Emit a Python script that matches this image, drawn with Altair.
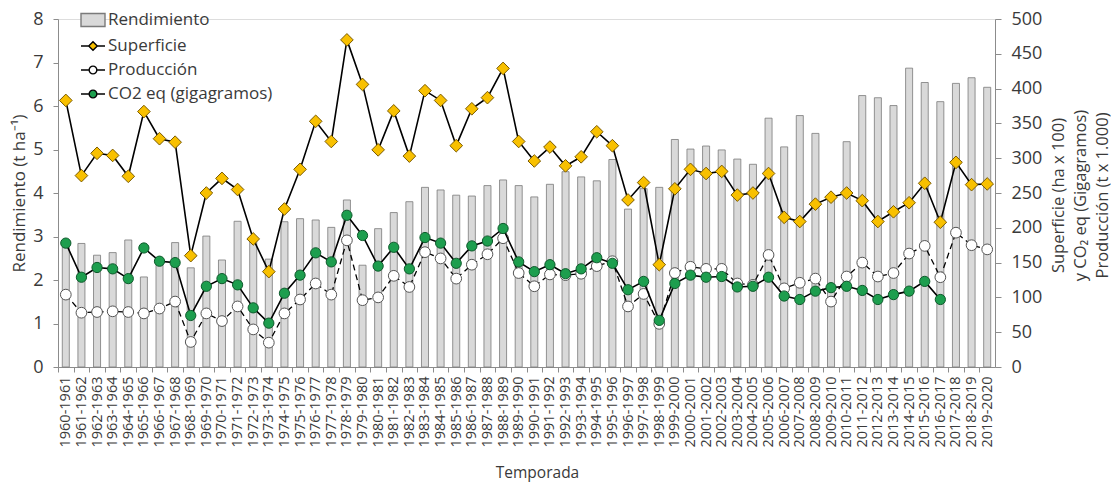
import altair as alt
import pandas as pd

temporadas = [f"{y}-{y + 1}" for y in range(1960, 2020)]

rendimiento = [2.76, 2.84, 2.57, 2.63, 2.92, 2.07, 2.48, 2.86, 2.28, 3.01,
               2.46, 3.35, 2.95, 2.48, 3.34, 3.41, 3.38, 3.21, 3.84, 2.34,
               3.18, 3.55, 3.80, 4.13, 4.07, 3.95, 3.93, 4.17, 4.30, 4.17,
               3.91, 4.20, 4.49, 4.37, 4.28, 4.77, 3.63, 4.10, 4.13, 5.23,
               5.01, 5.08, 4.99, 4.78, 4.66, 5.72, 5.06, 5.78, 5.37, 3.90,
               5.18, 6.24, 6.19, 6.01, 6.87, 6.54, 6.10, 6.52, 6.65, 6.43]

superficie = [383, 275, 307, 304, 274, 367, 328, 323, 160, 250,
              271, 255, 184, 137, 227, 284, 353, 324, 470, 406,
              312, 368, 303, 397, 383, 318, 371, 387, 429, 324,
              296, 316, 289, 302, 338, 318, 240, 265, 147, 256,
              284, 278, 281, 247, 250, 278, 215, 209, 234, 244,
              250, 239, 209, 223, 236, 264, 208, 294, 262, 263]

produccion = [104, 78, 79, 80, 79, 77, 84, 94, 36, 77,
              66, 87, 54, 35, 77, 97, 120, 104, 182, 96,
              100, 131, 115, 165, 156, 127, 147, 162, 185, 135,
              116, 133, 132, 134, 145, 152, 87, 105, 62, 135,
              144, 141, 141, 120, 118, 161, 113, 121, 127, 94,
              130, 150, 130, 135, 163, 174, 129, 193, 175, 169]

co2 = [178, 129, 143, 141, 127, 171, 152, 150, 74, 116,
       127, 118, 85, 63, 106, 132, 164, 151, 218, 189,
       145, 172, 141, 186, 178, 149, 174, 181, 199, 151,
       137, 147, 134, 141, 157, 149, 111, 123, 67, 120,
       132, 129, 130, 115, 116, 129, 102, 97, 109, 114,
       116, 110, 97, 104, 109, 123, 97]

leyenda = ["Rendimiento", "Superficie", "Producción", "CO2 eq (gigagramos)"]

FONT = "Open Sans"
TXT = "#3a3a3a"
AX = "#8c8c8c"

df_bar = pd.DataFrame({"Temporada": temporadas, "Rendimiento": rendimiento})
rows = []
for serie, vals in [("Superficie", superficie), ("Producción", produccion), ("CO2", co2)]:
    for t, v in zip(temporadas, vals):
        rows.append({"Temporada": t, "serie": serie, "valor": v})
df_long = pd.DataFrame(rows)
df_leg = pd.DataFrame({"serie": leyenda})

xscale = alt.Scale(domain=temporadas, paddingInner=0.55, paddingOuter=0.275)
x_axis = alt.Axis(title="Temporada", labelAngle=270, labelFontSize=14.5,
                  labelFont=FONT, labelColor=TXT, titleFont=FONT,
                  titleFontSize=15.5, titleFontWeight="normal", titleColor=TXT,
                  tickSize=5, tickOffset=-7.8, labelOffset=7.8,
                  labelPadding=4, titlePadding=19, titleX=479, domainColor=AX,
                  tickColor=AX, labelBaseline="middle", labelAlign="right")


def xenc():
    return alt.X("Temporada:N", scale=xscale, sort=temporadas, axis=x_axis)


bars = alt.Chart(df_bar).mark_bar(fill="#d9d9d9", stroke="#7a7a7a", strokeWidth=0.8).encode(
    x=xenc(),
    y=alt.Y("Rendimiento:Q", scale=alt.Scale(domain=[0, 8], nice=False),
            axis=alt.Axis(title="Rendimiento (t ha⁻¹)", values=list(range(0, 9)),
                          labelFontSize=18, labelFont=FONT, labelColor=TXT,
                          titleFont=FONT, titleFontSize=17, titleFontWeight="normal",
                          titleColor=TXT, tickSize=5, labelPadding=10, titlePadding=4,
                          domainColor=AX, tickColor=AX, grid=False)),
)

yscale2 = alt.Scale(domain=[0, 500], nice=False)
right_axis = alt.Axis(orient="right", values=list(range(0, 501, 50)),
                      title=["Superficie (ha x 100)", "y CO₂ eq (Gigagramos)", "Producción (t x 1.000)"],
                      titleAngle=270, titleX=55, titleY=176, titleAlign="center",
                      titleBaseline="top", labelFontSize=18, labelFont=FONT,
                      labelColor=TXT, titleFont=FONT, titleFontSize=16.5,
                      titleFontWeight="normal", titleColor=TXT, titleLineHeight=22,
                      tickSize=6, labelPadding=10, domainColor=AX,
                      tickColor=AX, grid=False)


def serie_layers(name, line_kw, pt_kw):
    base = alt.Chart(df_long).transform_filter(alt.datum.serie == name)
    y = alt.Y("valor:Q", scale=yscale2, axis=right_axis)
    line = base.mark_line(**line_kw).encode(x=xenc(), y=y)
    pts = base.mark_point(filled=True, opacity=1, **pt_kw).encode(x=xenc(), y=y)
    return [line, pts]


prod = serie_layers("Producción", dict(color="black", strokeWidth=1.3, strokeDash=[6, 4]),
                    dict(shape="circle", size=115, fill="white", stroke="#555555", strokeWidth=1))
co2l = serie_layers("CO2", dict(color="black", strokeWidth=1.6),
                    dict(shape="circle", size=105, fill="#1d9e4e", stroke="#0d5a2b", strokeWidth=1))
sup = serie_layers("Superficie", dict(color="black", strokeWidth=1.6),
                   dict(shape="diamond", size=160, fill="#f8c000", stroke="#7a5a00", strokeWidth=1))

right = alt.layer(sup[0], *prod, *co2l, sup[1])

paths = [
    "M-1,-0.54H1V0.54H-1Z",
    "M-1,0H-0.36M0.36,0H1M0,-0.36L0.36,0L0,0.36L-0.36,0Z",
    "M-1,0H-0.32M0.32,0H1M0.32,0A0.32,0.32 0 1 1 -0.32,0A0.32,0.32 0 1 1 0.32,0Z",
    "M-1,0H-0.32M0.32,0H1M0.32,0A0.32,0.32 0 1 1 -0.32,0A0.32,0.32 0 1 1 0.32,0Z",
]


def leg():
    return alt.Legend(title=None, orient="none", legendX=22, legendY=-12,
                      labelFont=FONT, labelFontSize=17, labelColor=TXT, labelLimit=0,
                      symbolSize=576, symbolStrokeWidth=1.4, rowPadding=3,
                      labelOffset=2, padding=0)


leg_layer = alt.Chart(df_leg).transform_filter("false").mark_point(filled=True, opacity=1).encode(
    fill=alt.Fill("serie:N", scale=alt.Scale(domain=leyenda, range=["#d9d9d9", "#f8c000", "white", "#1d9e4e"]),
                  legend=leg()),
    shape=alt.Shape("serie:N", scale=alt.Scale(domain=leyenda, range=paths), legend=leg()),
    stroke=alt.Stroke("serie:N", scale=alt.Scale(domain=leyenda, range=["#7a7a7a", "black", "black", "black"]),
                      legend=leg()),
)

chart = alt.layer(bars, right, leg_layer).resolve_scale(y="independent").properties(
    width=937, height=348,
    autosize=alt.AutoSizeParams(type="none"),
    padding={"left": 50, "top": 11, "right": 116, "bottom": 117},
).configure_view(stroke=None).configure(background="white")

chart.save("out.html", embed_options={"renderer": "svg", "actions": False})
